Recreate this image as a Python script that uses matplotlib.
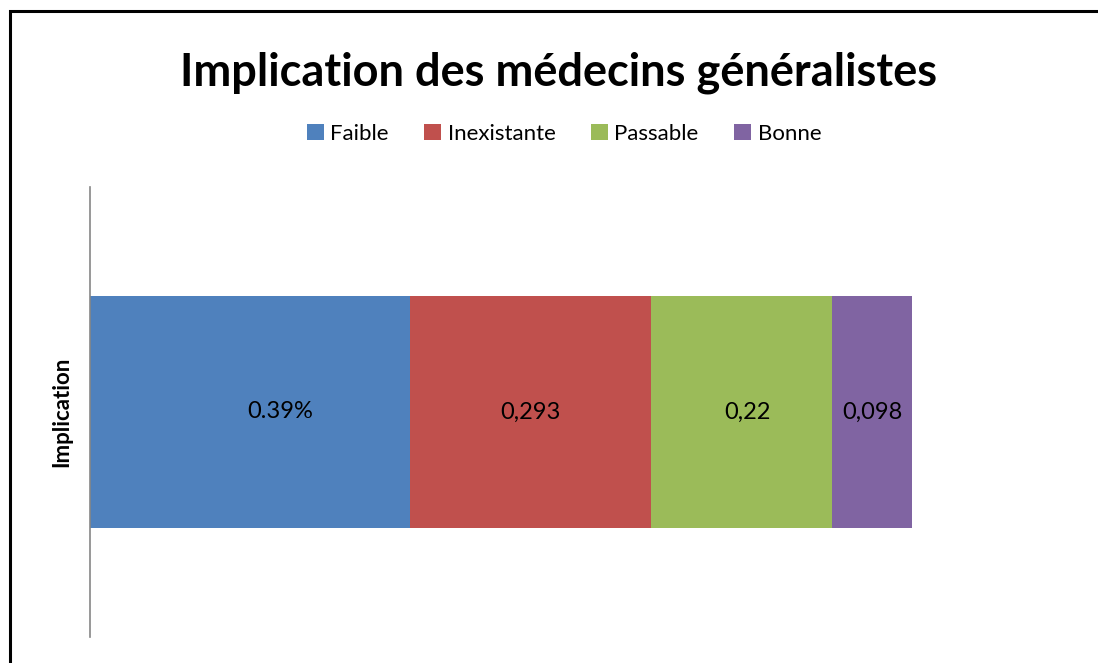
import matplotlib.pyplot as plt
from matplotlib.patches import Rectangle

categories = ["Implication"]
series_names = ["Faible", "Inexistante", "Passable", "Bonne"]
series_values = [0.39, 0.293, 0.22, 0.098]
value_labels = ["0.39%", "0,293", "0,22", "0,098"]
colors = ["#4f81bd", "#c0504d", "#9bbb59", "#8064a2"]
# the first label sits a bit right of its bar centre in the original
label_shift_px = [30, 0, 6, 0]

plt.rcParams["font.family"] = ["Lato", "DejaVu Sans"]

W, H = 1098, 663
fig = plt.figure(figsize=(W / 100, H / 100), dpi=100)

# outer chart border (right/bottom fall outside the image)
fig.patches.append(Rectangle((10 / W, -0.1), 1.2, 1 - 11 / H + 0.1,
                             transform=fig.transFigure, fill=False,
                             edgecolor="black", linewidth=2.2))

# plot area: x from 90px, y from 187px to 637px
ax = fig.add_axes([90 / W, 1 - 637 / H, (1076 - 90) / W, (637 - 187) / H])
ax.set_xlim(0, 1.2)
ax.set_ylim(-0.97, 0.97)

left = 0
for name, val, lab, col, dx in zip(series_names, series_values, value_labels,
                                   colors, label_shift_px):
    ax.barh(categories, [val], left=left, height=1.0, color=col, label=name)
    ax.annotate(lab, (left + val / 2, 0), xytext=(dx * 0.72, 0),
                textcoords="offset points", ha="center", va="center",
                fontsize=17, color="black")
    left += val

for side in ("top", "right", "bottom"):
    ax.spines[side].set_visible(False)
ax.spines["left"].set_color("#868686")
ax.spines["left"].set_linewidth(1.2)
ax.set_xticks([])
ax.set_yticks([])
ax.set_ylabel("Implication", fontsize=16, fontweight="bold", labelpad=13)

fig.text(559 / W, 1 - 73 / H, "Implication des médecins généralistes",
         ha="center", va="center", fontsize=32.5, fontweight="bold")

handles, labels = ax.get_legend_handles_labels()
fig.legend(handles, labels, loc="center", bbox_to_anchor=(564 / W, 1 - 134 / H),
           ncol=4, frameon=False, fontsize=16, handlelength=0.75,
           handleheight=0.75, handletextpad=0.3, columnspacing=1.6)

fig.savefig("out.png", dpi=100)
